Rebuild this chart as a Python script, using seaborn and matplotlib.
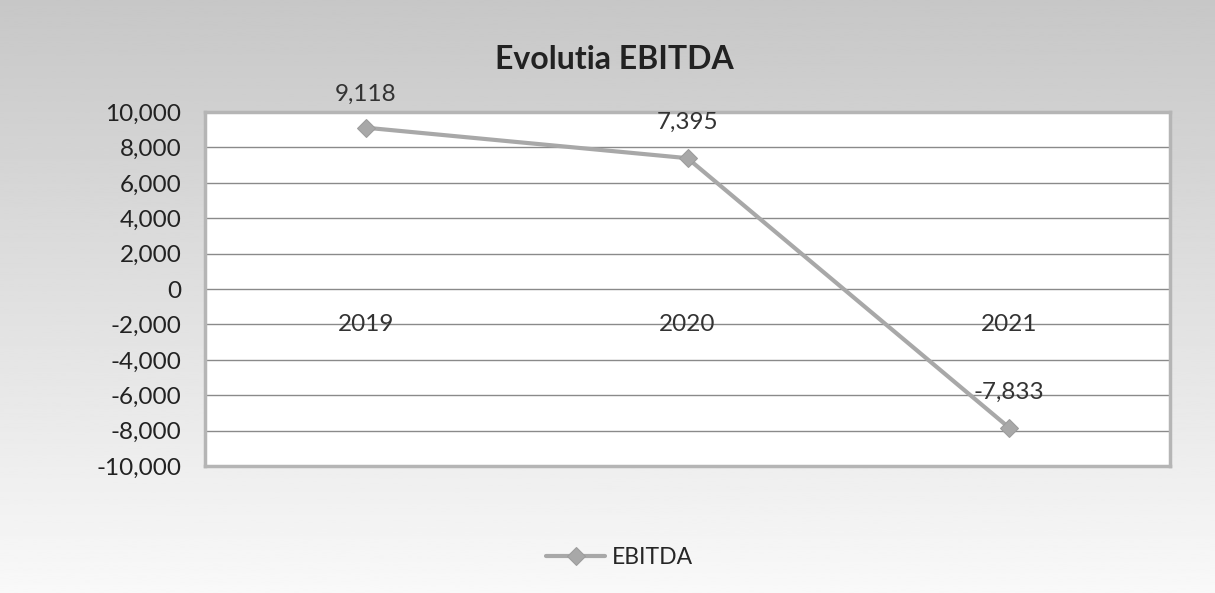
import numpy as np
import pandas as pd
import matplotlib
matplotlib.use("Agg")
import matplotlib.pyplot as plt
import seaborn as sns

years = ["2019", "2020", "2021"]
ebitda = [9118, 7395, -7833]
value_labels = ["9,118", "7,395", "-7,833"]
yticks = [-10000, -8000, -6000, -4000, -2000, 0, 2000, 4000, 6000, 8000, 10000]

sns.set_theme(style="white")
plt.rcParams["font.family"] = ["Lato", "DejaVu Sans"]

fig = plt.figure(figsize=(12.15, 5.93), dpi=100)

# background gradient
bg = fig.add_axes([0, 0, 1, 1], zorder=-10)
grad = np.linspace(0.78, 0.975, 256).reshape(-1, 1)
bg.imshow(grad, aspect="auto", cmap="gray", vmin=0, vmax=1, extent=[0, 1, 0, 1], origin="upper")
bg.axis("off")

ax = fig.add_axes([0.1687, 0.214, 0.7943, 0.597])
ax.set_facecolor("white")
df = pd.DataFrame({"year": years, "EBITDA": ebitda})
sns.lineplot(data=df, x="year", y="EBITDA", ax=ax, color="#a8a8a8", linewidth=3,
             marker="D", markersize=9, markeredgecolor="#9c9c9c", label="EBITDA",
             sort=False, zorder=5)

ax.set_ylim(-10000, 10000)
ax.set_xlim(-0.5, 2.5)
ax.set_yticks(yticks)
ax.set_yticklabels([f"{v:,}" for v in yticks], fontsize=17.5, color="#222222")
ax.yaxis.grid(True, color="#8a8a8a", linewidth=1)
ax.xaxis.grid(False)
ax.set_xticks([])
ax.set_xlabel("")
ax.set_ylabel("")
ax.tick_params(axis="y", length=0, pad=17)
for s in ax.spines.values():
    s.set_color("#b5b5b5")
    s.set_linewidth(2.5)

for i, y in enumerate(years):
    ax.text(i, -2000, y, ha="center", va="center", fontsize=17.5, color="#333333", zorder=6)

offsets = [1900, 2000, 2000]
for i, (v, lab) in enumerate(zip(ebitda, value_labels)):
    ax.text(i, v + offsets[i], lab, ha="center", va="center", fontsize=17.5, color="#333333", zorder=6)

fig.text(0.506, 0.90, "Evolutia EBITDA", ha="center", va="center", fontsize=23,
         fontweight="bold", color="#222222")

ax.legend_.remove()
handles, labels = ax.get_legend_handles_labels()
fig.legend(handles, labels, loc="center", bbox_to_anchor=(0.51, 0.06), frameon=False,
           fontsize=16.5, handlelength=2.6, handletextpad=0.3)

fig.savefig("out.png", dpi=100)
